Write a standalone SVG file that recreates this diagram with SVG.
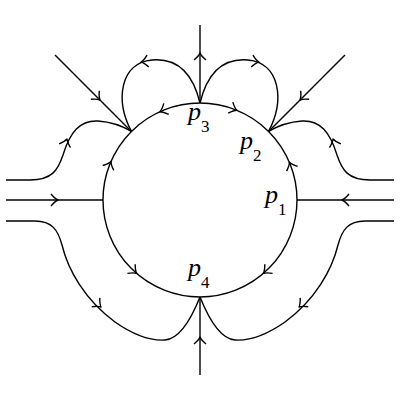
<svg xmlns="http://www.w3.org/2000/svg" xmlns:xlink="http://www.w3.org/1999/xlink" width="400" height="400" viewBox="0 0 400 400">
<style>
.ln{fill:none;stroke:#000;stroke-width:1.4;stroke-linejoin:round}
.lbl{font-family:"Liberation Serif",serif;font-size:26px;font-style:italic;fill:#000}
.sub{font-style:normal;font-size:17px}
</style>
<defs>
<path id="ah" class="ln" d="M-7,-6 Q-3,-1.2 0,0 Q-3,1.2 -7,6"/>
</defs>
<rect width="400" height="400" fill="#fff"/>
<g id="connectors">
<circle class="ln" cx="200" cy="200" r="97"/>
<path class="ln" d="M200,103 L200,25"/>
<path class="ln" d="M200,297 L200,375"/>
<path class="ln" d="M6,200 L103,200"/>
<path class="ln" d="M394,200 L297,200"/>
<path class="ln" d="M55,55 L131.4,131.4"/>
<path class="ln" d="M345,55 L268.6,131.4"/>
<path class="ln" d="M200,103 C192,70 175,58 152,60 C120,63 115,100 131.4,131.4"/>
<path class="ln" d="M200,103 C208,70 225,58 248,60 C280,63 285,100 268.6,131.4"/>
<path class="ln" d="M6,180 L30,180 C52,180 58,170 63,155 C70,132 80,120 98,121 C112,122 124,127 131.4,131.4"/>
<path class="ln" d="M394,180 L370,180 C348,180 342,170 337,155 C330,132 320,120 302,121 C288,122 276,127 268.6,131.4"/>
<path class="ln" d="M6,221 L35,221 C52,221 58,230 62,245 C68,270 85,300 115,322 C135,336 150,341 165,340 C178,339 190,322 200,297"/>
<path class="ln" d="M394,221 L365,221 C348,221 342,230 338,245 C332,270 315,300 285,322 C265,336 250,341 235,340 C222,339 210,322 200,297"/>
<use xlink:href="#ah" transform="translate(200,53) rotate(-90)"/>
<use xlink:href="#ah" transform="translate(200,337) rotate(-90)"/>
<use xlink:href="#ah" transform="translate(58,200)"/>
<use xlink:href="#ah" transform="translate(342,200) rotate(180)"/>
<use xlink:href="#ah" transform="translate(100,100) rotate(45)"/>
<use xlink:href="#ah" transform="translate(300,100) rotate(135)"/>
<use xlink:href="#ah" transform="translate(141,62) rotate(172)"/>
<use xlink:href="#ah" transform="translate(259,62) rotate(8)"/>
<use xlink:href="#ah" transform="translate(67,139) rotate(-72)"/>
<use xlink:href="#ah" transform="translate(333,139) rotate(-108)"/>
<use xlink:href="#ah" transform="translate(101,307) rotate(42)"/>
<use xlink:href="#ah" transform="translate(299,307) rotate(138)"/>
<use xlink:href="#ah" transform="translate(159.9,111.7) rotate(155.6)"/>
<use xlink:href="#ah" transform="translate(237,110.3) rotate(22.4)"/>
<use xlink:href="#ah" transform="translate(289.4,162.3) rotate(-112.9)"/>
<use xlink:href="#ah" transform="translate(111,161.5) rotate(-66.6)"/>
<use xlink:href="#ah" transform="translate(136.6,273.4) rotate(40.8)"/>
<use xlink:href="#ah" transform="translate(263.4,273.4) rotate(139.2)"/>
</g>
<g id="p3"><text class="lbl" x="188" y="120">p<tspan class="sub" dy="12">3</tspan></text></g>
<g id="p2"><text class="lbl" x="240" y="149">p<tspan class="sub" dy="12">2</tspan></text></g>
<g id="p1"><text class="lbl" x="265" y="203">p<tspan class="sub" dy="12">1</tspan></text></g>
<g id="p4"><text class="lbl" x="188" y="276">p<tspan class="sub" dy="12">4</tspan></text></g>
</svg>
